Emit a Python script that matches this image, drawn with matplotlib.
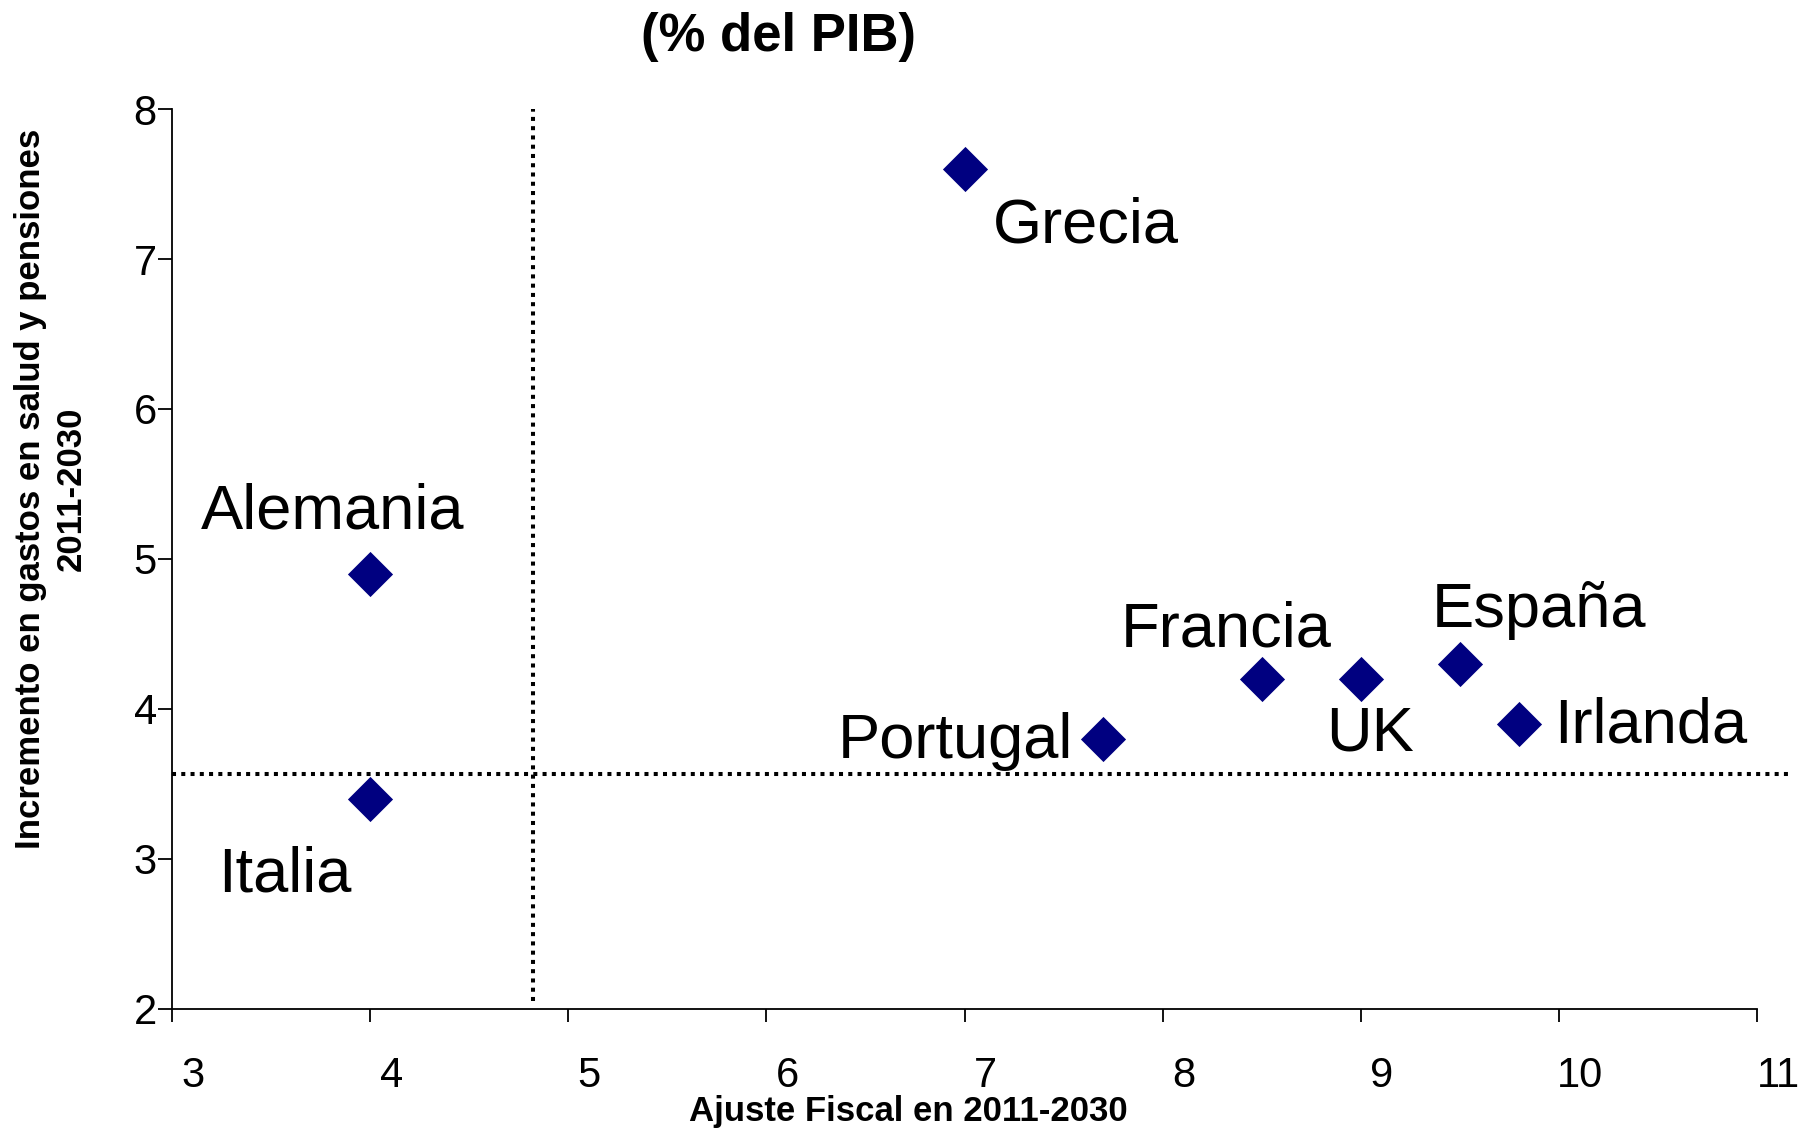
import matplotlib
matplotlib.use("Agg")
import matplotlib.pyplot as plt
from matplotlib.transforms import ScaledTranslation

plt.rcParams['font.family'] = ['Liberation Sans', 'DejaVu Sans']

countries = ["Alemania", "Italia", "Grecia", "Portugal", "Francia", "UK", "España", "Irlanda"]
ajuste = [4.0, 4.0, 7.0, 7.7, 8.5, 9.0, 9.5, 9.8]
incremento = [4.9, 3.4, 7.6, 3.8, 4.2, 4.2, 4.3, 3.9]
x_ticks = [3, 4, 5, 6, 7, 8, 9, 10, 11]
y_ticks = [2, 3, 4, 5, 6, 7, 8]
ref_x = 4.82
ref_y = 3.565

# label offsets in pixels (dx, dy up) and horizontal alignment
offsets = {
    "Alemania": (-169, 45, "left"),
    "Italia": (-152, -93, "left"),
    "Grecia": (28, -73, "left"),
    "Portugal": (-30, -19, "right"),
    "Francia": (-141, 32, "left"),
    "UK": (-35, -72, "left"),
    "España": (-28, 37, "left"),
    "Irlanda": (35, -19, "left"),
}

fig = plt.figure(figsize=(17.98, 11.32), dpi=100)
ax = fig.add_axes([0.0957, 0.1087, 0.8815, 0.795])

ax.scatter(ajuste, incremento, marker='D', s=23**2, color='#000080', zorder=3, linewidths=0)

ax.vlines(ref_x, 2.05, 8, colors='black', linestyles=(0, (1.0, 1.3)), linewidth=2.9, clip_on=False)
ax.hlines(ref_y, 3, 11.17, colors='black', linestyles=(0, (1.0, 1.3)), linewidth=2.9, clip_on=False)

for c, x, y in zip(countries, ajuste, incremento):
    dx, dy, ha = offsets[c]
    ax.annotate(c, (x, y), xytext=(dx, dy), textcoords='offset pixels',
                ha=ha, va='baseline', fontsize=45.5, color='black')

ax.set_xlim(3, 11)
ax.set_ylim(2, 8)
ax.set_xticks(x_ticks)
ax.set_yticks(y_ticks)
ax.set_xticklabels([str(t) for t in x_ticks])
ax.set_yticklabels([str(t) for t in y_ticks])
for s in ['top', 'right']:
    ax.spines[s].set_visible(False)
for s in ['left', 'bottom']:
    ax.spines[s].set_linewidth(1.3)
ax.tick_params(axis='x', direction='out', length=9, width=1.3, labelsize=30, pad=25)
ax.tick_params(axis='y', direction='out', length=10, width=1.3, labelsize=30, pad=1)
for lbl in ax.get_xticklabels():
    lbl.set_transform(lbl.get_transform() + ScaledTranslation(0.21, 0, fig.dpi_scale_trans))

fig.text(0.433, 0.967, "(% del PIB)", ha='center', va='center', fontsize=38, fontweight='bold')
fig.text(0.505, 0.018, "Ajuste Fiscal en 2011-2030", ha='center', va='center', fontsize=25, fontweight='bold')
fig.text(0.0285, 0.568, "Incremento en gastos en salud y pensiones\n2011-2030", ha='center', va='center',
         rotation=90, fontsize=25, fontweight='bold', linespacing=1.3, multialignment='center')

fig.savefig("out.png", dpi=100)
